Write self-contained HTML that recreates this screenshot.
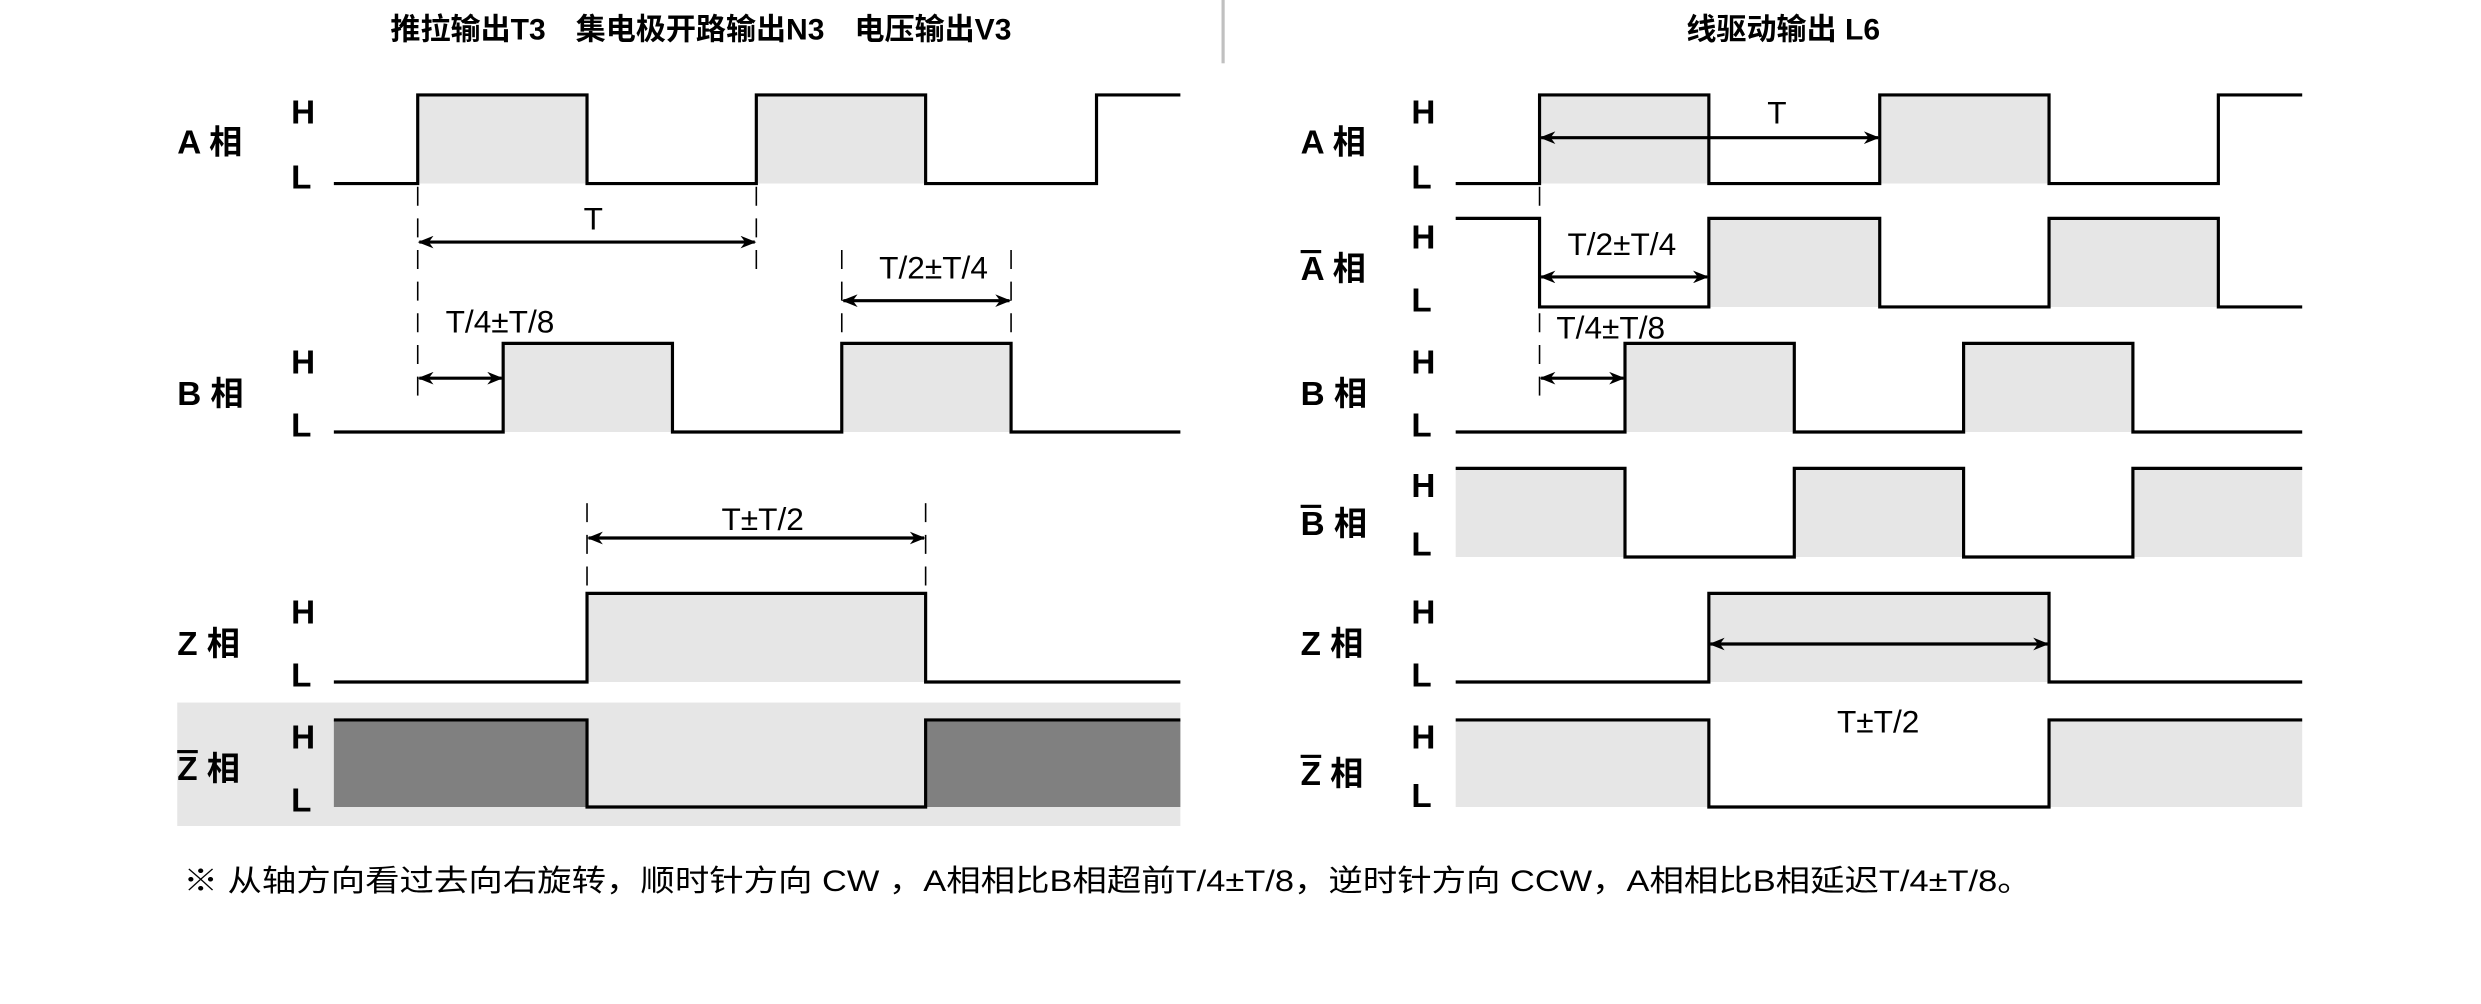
<!DOCTYPE html>
<html><head><meta charset="utf-8"><style>
html,body{margin:0;padding:0;background:#fff;}
svg{display:block;}
text{font-family:"Liberation Sans","Noto Sans CJK SC",sans-serif;fill:#000;}
.b{font-weight:bold;}
</style></head><body>
<svg width="2481" height="1004" viewBox="0 0 1568 634.5" preserveAspectRatio="none" xmlns="http://www.w3.org/2000/svg">
<defs>
<marker id="ar" markerWidth="10" markerHeight="8" refX="9" refY="4" orient="auto-start-reverse" markerUnits="userSpaceOnUse">
<path d="M0,0 L10,4 L0,8 L3,4 Z" fill="#000"/>
</marker>
</defs>
<rect x="772" y="0" width="2" height="40" fill="#c0c0c0"/>
<text x="443" y="25" class="b" font-size="19" text-anchor="middle">推拉输出T3　集电极开路输出N3　电压输出V3</text>
<text x="1127" y="25" class="b" font-size="19" text-anchor="middle">线驱动输出 L6</text>

<g fill="#e6e6e6">
<rect x="264" y="60" width="107" height="56"/><rect x="478" y="60" width="107" height="56"/>
<rect x="318" y="217" width="107" height="56"/><rect x="532" y="217" width="107" height="56"/>
<rect x="371" y="375" width="214" height="56"/>
<rect x="112" y="444" width="634" height="78"/>
<rect x="973" y="60" width="107" height="56"/><rect x="1188" y="60" width="107" height="56"/>
<rect x="1080" y="138" width="108" height="56"/><rect x="1295" y="138" width="107" height="56"/>
<rect x="1027" y="217" width="107" height="56"/><rect x="1241" y="217" width="107" height="56"/>
<rect x="920" y="296" width="107" height="56"/><rect x="1134" y="296" width="107" height="56"/><rect x="1348" y="296" width="107" height="56"/>
<rect x="1080" y="375" width="215" height="56"/>
<rect x="920" y="455" width="160" height="55"/><rect x="1295" y="455" width="160" height="55"/>
</g>
<g fill="#808080"><rect x="211" y="455" width="160" height="55"/><rect x="585" y="455" width="161" height="55"/></g>

<g fill="none" stroke="#000" stroke-width="2">
<polyline points="211,116 264,116 264,60 371,60 371,116 478,116 478,60 585,60 585,116 693,116 693,60 746,60"/>
<polyline points="211,273 318,273 318,217 425,217 425,273 532,273 532,217 639,217 639,273 746,273"/>
<polyline points="211,431 371,431 371,375 585,375 585,431 746,431"/>
<polyline points="211,455 371,455 371,510 585,510 585,455 746,455"/>

<polyline points="920,116 973,116 973,60 1080,60 1080,116 1188,116 1188,60 1295,60 1295,116 1402,116 1402,60 1455,60"/>
<polyline points="920,138 973,138 973,194 1080,194 1080,138 1188,138 1188,194 1295,194 1295,138 1402,138 1402,194 1455,194"/>
<polyline points="920,273 1027,273 1027,217 1134,217 1134,273 1241,273 1241,217 1348,217 1348,273 1455,273"/>
<polyline points="920,296 1027,296 1027,352 1134,352 1134,296 1241,296 1241,352 1348,352 1348,296 1455,296"/>
<polyline points="920,431 1080,431 1080,375 1295,375 1295,431 1455,431"/>
<polyline points="920,455 1080,455 1080,510 1295,510 1295,455 1455,455"/>
</g>

<g stroke="#000" stroke-width="1" stroke-dasharray="12,8" fill="none">
<line x1="264" y1="118" x2="264" y2="250"/>
<line x1="478" y1="118" x2="478" y2="172"/>
<line x1="532" y1="158" x2="532" y2="216"/>
<line x1="639" y1="158" x2="639" y2="216"/>
<line x1="371" y1="318" x2="371" y2="374"/>
<line x1="585" y1="318" x2="585" y2="374"/>
<line x1="973" y1="118" x2="973" y2="250"/>
</g>

<g stroke="#000" stroke-width="2" marker-start="url(#ar)" marker-end="url(#ar)">
<line x1="265" y1="153" x2="477" y2="153"/>
<line x1="533" y1="190" x2="638" y2="190"/>
<line x1="265" y1="239" x2="317" y2="239"/>
<line x1="372" y1="340" x2="584" y2="340"/>
<line x1="974" y1="87" x2="1187" y2="87"/>
<line x1="974" y1="175" x2="1079" y2="175"/>
<line x1="974" y1="239" x2="1026" y2="239"/>
<line x1="1081" y1="407" x2="1294" y2="407"/>
</g>

<g font-size="20">
<text x="375" y="145" text-anchor="middle">T</text>
<text x="590" y="176" text-anchor="middle">T/2±T/4</text>
<text x="316" y="210" text-anchor="middle">T/4±T/8</text>
<text x="482" y="335" text-anchor="middle">T±T/2</text>
<text x="1123" y="78" text-anchor="middle">T</text>
<text x="1025" y="161" text-anchor="middle">T/2±T/4</text>
<text x="1018" y="214" text-anchor="middle">T/4±T/8</text>
<text x="1187" y="463" text-anchor="middle">T±T/2</text>
</g>

<g class="b" font-size="21">
<text x="112" y="97">A 相</text>
<text x="112" y="256">B 相</text>
<text x="112" y="414">Z 相</text>
<text x="112" y="493">Z 相</text>
<rect x="112" y="474" width="13" height="2" fill="#000"/>
<text x="184" y="78">H</text><text x="184" y="119">L</text>
<text x="184" y="236">H</text><text x="184" y="276">L</text>
<text x="184" y="394">H</text><text x="184" y="434">L</text>
<text x="184" y="473">H</text><text x="184" y="513">L</text>

<text x="822" y="97">A 相</text>
<text x="822" y="177">A 相</text>
<rect x="822" y="158" width="13" height="2" fill="#000"/>
<text x="822" y="256">B 相</text>
<text x="822" y="338">B 相</text>
<rect x="822" y="319" width="13" height="2" fill="#000"/>
<text x="822" y="414">Z 相</text>
<text x="822" y="496">Z 相</text>
<rect x="822" y="477" width="13" height="2" fill="#000"/>
<text x="892" y="78">H</text><text x="892" y="119">L</text>
<text x="892" y="157">H</text><text x="892" y="197">L</text>
<text x="892" y="236">H</text><text x="892" y="276">L</text>
<text x="892" y="314">H</text><text x="892" y="351">L</text>
<text x="892" y="394">H</text><text x="892" y="434">L</text>
<text x="892" y="473">H</text><text x="892" y="510">L</text>
</g>

<text x="116" y="563" font-size="19" textLength="1168" lengthAdjust="spacingAndGlyphs">※ 从轴方向看过去向右旋转，顺时针方向 CW ，A相相比B相超前T/4±T/8，逆时针方向 CCW，A相相比B相延迟T/4±T/8。</text>
</svg>
</body></html>
